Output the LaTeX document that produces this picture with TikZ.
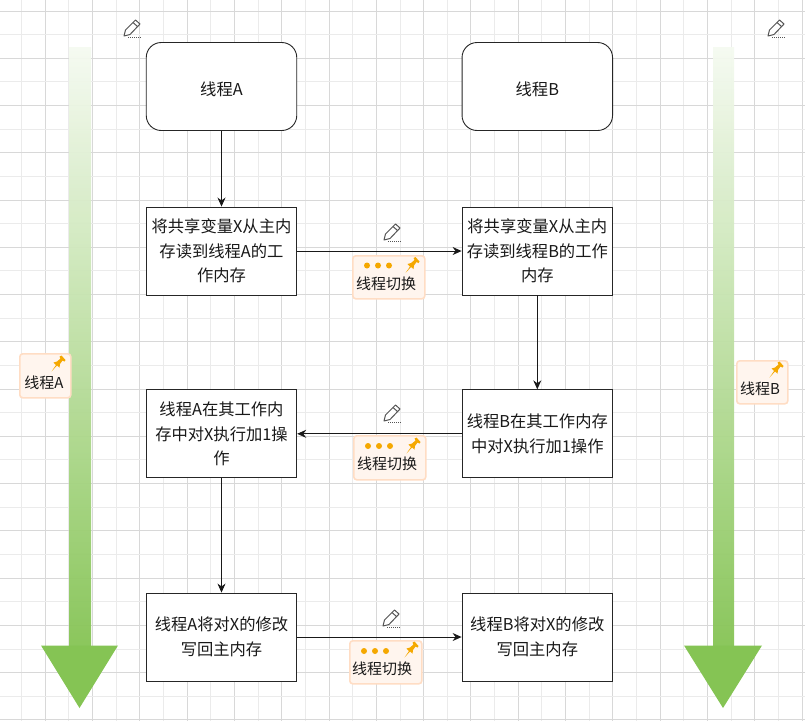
\documentclass[tikz,border=0pt]{standalone}
\usepackage{fontspec}
\setmainfont{Noto Sans CJK SC}
\usetikzlibrary{arrows.meta}
\definecolor{gridmaj}{HTML}{D8D8D8}
\definecolor{gridmin}{HTML}{EBEBEB}
\definecolor{stick}{HTML}{FFF5EE}
\definecolor{stickb}{HTML}{FFDDC4}
\definecolor{pinc}{HTML}{F5A800}
\definecolor{arrowgreen}{HTML}{85C454}
\definecolor{penc}{HTML}{555555}
\tikzset{
  x=1pt,y=-1pt,
  every node/.style={font=\fontsize{16.3}{24.5}\selectfont,text=black!90},
  stepbox/.style={draw=black!85,line width=0.9pt,fill=white,minimum width=150.5pt,minimum height=88pt,align=center,inner sep=0pt,execute at begin node={\rule{0pt}{19pt}}},
  headbox/.style={stepbox,rounded corners=15pt},
  link/.style={draw=black!90,line width=0.9pt,-{Stealth[length=9pt,width=8pt]}},
  sticky/.style={draw=stickb,line width=1.6pt,fill=stick,rounded corners=3pt,inner sep=0pt,anchor=north west},
  stickytext/.style={font=\fontsize{15}{16}\selectfont,inner sep=0pt},
  pencil/.pic={
    \draw[penc,line width=1pt,line join=round,fill=white] (-8,8)--(-6.5,2)--(3.5,-8)--(8,-4)--(-2,6.5)--cycle;
    \draw[penc,line width=1pt] (1,-5.5)--(5.5,-1.5);
    \draw[penc,line width=1pt,densely dotted] (-4,9)--(9,9);
  },
  pushpin/.pic={
    \fill[pinc] (-6.5,7.5)--(-2,1)--(-4.5,-1.5)--(-1,-2.5)--(2.5,-5.5)--(1.5,-7.5)--(3.5,-8.5)--(7.5,-4)--(6.5,-2.5)--(4.5,-3.5)--(2,0)--(1.5,3.5)--(-1,1.5)--cycle;
  },
  dots/.pic={
    \fill[pinc] (0,0) circle (3) (11,0) circle (3) (22,0) circle (3);
  },
}
\begin{document}
\begin{tikzpicture}
\useasboundingbox (0,0) rectangle (805,721);
\fill[white] (0,0) rectangle (805,721);
% grid
\foreach \i in {0,...,34} {
  \pgfmathsetmacro{\gx}{21.6+23.65*\i}
  \pgfmathtruncatemacro{\odd}{mod(\i,2)}
  \ifnum\odd=0 \draw[gridmin,line width=1pt] (\gx,0)--(\gx,721);
  \else \draw[gridmaj,line width=1pt] (\gx,0)--(\gx,721); \fi
}
\foreach \i in {0,...,30} {
  \pgfmathsetmacro{\gy}{11+23.63*\i}
  \pgfmathtruncatemacro{\odd}{mod(\i,2)}
  \ifnum\odd=1 \draw[gridmin,line width=1pt] (0,\gy)--(805,\gy);
  \else \draw[gridmaj,line width=1pt] (0,\gy)--(805,\gy); \fi
}
% big arrows
\shade[top color=arrowgreen!8,bottom color=arrowgreen,opacity=0.95] (69,47) rectangle (91,646);
\fill[arrowgreen] (41,645.5)--(118,645.5)--(79.5,708)--cycle;
\shade[top color=arrowgreen!8,bottom color=arrowgreen,opacity=0.95] (713,47) rectangle (734,646);
\fill[arrowgreen] (684,645.5)--(762,645.5)--(723,708)--cycle;
% boxes
\node[headbox] (a0) at (221.5,86.5) {线程A};
\node[headbox] (b0) at (537.3,86.5) {线程B};
\node[stepbox] (a1) at (221.5,251) {将共享变量X从主内\\存读到线程A的工\\作内存};
\node[stepbox] (b1) at (537.3,251) {将共享变量X从主内\\存读到线程B的工作\\内存};
\node[stepbox] (b2) at (537.3,433.8) {线程B在其工作内存\\中对X执行加1操作};
\node[stepbox] (a2) at (221.5,433.8) {线程A在其工作内\\存中对X执行加1操\\作};
\node[stepbox] (a3) at (221.5,637) {线程A将对X的修改\\写回主内存};
\node[stepbox] (b3) at (537.3,637) {线程B将对X的修改\\写回主内存};
% connectors
\draw[link] (a0)--(a1);
\draw[link] (a1)--(b1);
\draw[link] (b1)--(b2);
\draw[link] (b2)--(a2);
\draw[link] (a2)--(a3);
\draw[link] (a3)--(b3);
% pencils
\pic at (132,28) {pencil};
\pic at (776,28) {pencil};
\pic at (392,232) {pencil};
\pic at (392,413) {pencil};
\pic at (391,618) {pencil};
% stickies
\node[sticky,minimum width=72pt,minimum height=43pt] (s1) at (352,255) {};
\pic at (367,265.5) {dots}; \pic at (412,265.5) {pushpin};
\node[stickytext] (t1) at (386,284) {线程切换};
\node[sticky,minimum width=72pt,minimum height=44pt] (s2) at (353,435) {};
\pic at (368,446) {dots}; \pic at (413,446) {pushpin};
\node[stickytext] (t2) at (387,464) {线程切换};
\node[sticky,minimum width=72pt,minimum height=43pt] (s3) at (349,640) {};
\pic at (364,651) {dots}; \pic at (411,650) {pushpin};
\node[stickytext] (t3) at (382,669) {线程切换};
\node[sticky,minimum width=51pt,minimum height=44pt] (s4) at (19,353) {};
\pic at (58,364) {pushpin};
\node[stickytext] (t4) at (44,383) {线程A};
\node[sticky,minimum width=51pt,minimum height=43pt] (s5) at (736,360) {};
\pic at (776,370) {pushpin};
\node[stickytext] (t5) at (760,389) {线程B};
\end{tikzpicture}
\end{document}
